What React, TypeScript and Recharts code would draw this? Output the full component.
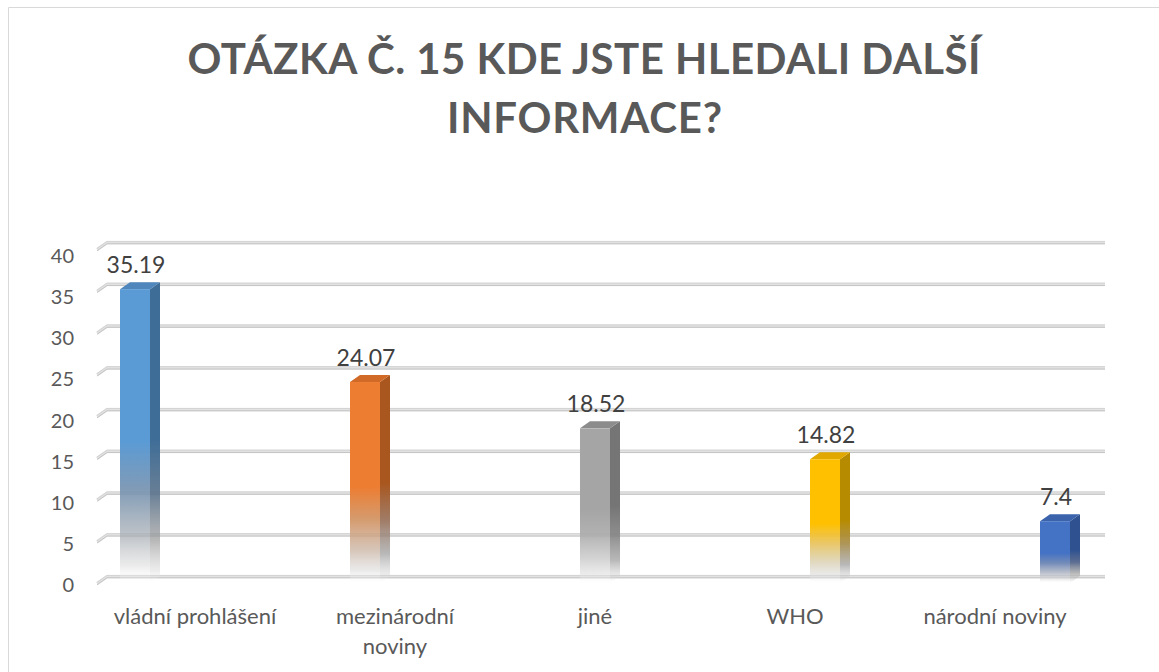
import React from 'react';
import { BarChart, Bar, XAxis, YAxis, CartesianGrid, LabelList } from 'recharts';

const categories = ['vládní prohlášení', 'mezinárodní noviny', 'jiné', 'WHO', 'národní noviny'];
const values = [35.19, 24.07, 18.52, 14.82, 7.4];
const yTicks = [0, 5, 10, 15, 20, 25, 30, 35, 40];
const titleLines = ['OTÁZKA Č. 15 KDE JSTE HLEDALI DALŠÍ', 'INFORMACE?'];

const palette = [
  { front: '#5b9bd5', top: '#4f86bb', side: '#3e6d98', mid: '#7592b0', low: '#a9afb6', sideMid: '#5a738c' },
  { front: '#ed7d31', top: '#d06a26', side: '#a9571f', mid: '#d2915f', low: '#c9b3a3', sideMid: '#98715a' },
  { front: '#a5a5a5', top: '#8c8c8c', side: '#757575', mid: '#aaaaaa', low: '#c4c4c4', sideMid: '#838383' },
  { front: '#ffc000', top: '#e0a800', side: '#b78b00', mid: '#e8c25a', low: '#d6cdb0', sideMid: '#a88d4a' },
  { front: '#4472c4', top: '#3a63ab', side: '#2f5190', mid: '#6882b2', low: '#a6adbc', sideMid: '#4f6288' },
];

const data = categories.map((name, i) => {
  const row: Record<string, any> = { name };
  values.forEach((v, j) => {
    row['s' + j] = j === i ? v : null;
  });
  return row;
});

const DX = 10;
const DY = 7;
const FONT = 'Lato, Carlito, Calibri, "Open Sans", sans-serif';

const makeShape = (j: number) => (p: any) => {
  const { x, y, width, height } = p;
  if (x == null || y == null || !height || height <= 0) return <g />;
  const c = palette[j];
  return (
    <g>
      <path
        d={`M${x + width},${y} L${x + width + DX},${y - DY} L${x + width + DX},${y + height - DY} L${x + width},${y + height} Z`}
        fill={`url(#gs${j})`}
      />
      <path
        d={`M${x},${y} L${x + DX},${y - DY} L${x + width + DX},${y - DY} L${x + width},${y} Z`}
        fill={c.top}
      />
      <rect x={x} y={y} width={width} height={height} fill={`url(#gf${j})`} />
    </g>
  );
};

const makeLabel = (p: any) => {
  const { x, y, width, value } = p;
  if (value == null || x == null) return null;
  return (
    <text
      x={x + width / 2 + 1}
      y={y - 25}
      textAnchor="middle"
      dominantBaseline="central"
      fontFamily={FONT}
      fontSize={23}
      fill="#404040"
    >
      {value}
    </text>
  );
};

const gridLine = (p: any) => {
  const { x1, x2, y1 } = p;
  const d = `M${x1 + 2},${y1} L${x1 + 2 + DX},${y1 - DY} L${x2 + DX},${y1 - DY}`;
  return (
    <g key={`grid-${y1}`}>
      <path d={d} stroke="#e2e2e2" strokeWidth={3.2} fill="none" transform="translate(0,0.6)" />
      <path d={d} stroke="#c4c4c4" strokeWidth={1} fill="none" transform="translate(0,1.8)" />
      <path d={d} stroke="#d3d3d3" strokeWidth={1} fill="none" transform="translate(0,-0.6)" />
    </g>
  );
};

const YTick = (p: any) => {
  const { x, y, payload } = p;
  const dy = 1 + (583 - y) * 0.015;
  return (
    <text
      x={x - 21}
      y={y + dy}
      textAnchor="end"
      dominantBaseline="central"
      fontFamily={FONT}
      fontSize={20}
      fill="#595959"
    >
      {payload.value}
    </text>
  );
};

const XTick = (p: any) => {
  const { x, y, payload } = p;
  const label: string = String(payload.value);
  const lines = label.length > 17 ? label.split(' ') : [label];
  return (
    <g>
      {lines.map((ln, k) => (
        <text
          key={k}
          x={x}
          y={y + 32 + k * 30}
          textAnchor="middle"
          dominantBaseline="central"
          fontFamily={FONT}
          fontSize={22}
          fill="#595959"
        >
          {ln}
        </text>
      ))}
    </g>
  );
};

export default function App() {
  return (
    <div
      style={{
        position: 'fixed',
        left: 0,
        top: 0,
        width: 1159,
        height: 672,
        background: '#ffffff',
        overflow: 'hidden',
      }}
    >
      <svg width={1159} height={672} style={{ position: 'absolute', left: 0, top: 0 }}>
        <path d="M8.5,672 L8.5,7.5 L1159,7.5" stroke="#d9d9d9" strokeWidth={1} fill="none" />
        <text
          x={584}
          y={74}
          textAnchor="middle"
          fontFamily={FONT}
          fontWeight={700}
          fontSize={42}
          fill="#595959"
          textLength={793}
          lengthAdjust="spacing"
        >
          {titleLines[0]}
        </text>
        <text
          x={584.5}
          y={133}
          textAnchor="middle"
          fontFamily={FONT}
          fontWeight={700}
          fontSize={42}
          fill="#595959"
          textLength={275}
          lengthAdjust="spacing"
        >
          {titleLines[1]}
        </text>
      </svg>
      <div style={{ position: 'absolute', left: 0, top: 0 }}>
        <BarChart
          width={1159}
          height={672}
          data={data}
          margin={{ top: 249, right: 64, bottom: 29, left: 0 }}
          barGap={0}
          barSize={30}
        >
          <defs>
            {palette.map((c, j) => (
              <linearGradient key={`gf${j}`} id={`gf${j}`} x1="0" y1="0" x2="0" y2="1">
                <stop offset="0" stopColor={c.front} stopOpacity={1} />
                <stop offset="0.52" stopColor={c.front} stopOpacity={1} />
                <stop offset="0.68" stopColor={c.mid} stopOpacity={0.92} />
                <stop offset="0.84" stopColor={c.low} stopOpacity={0.75} />
                <stop offset="0.94" stopColor="#dadada" stopOpacity={0.55} />
                <stop offset="1" stopColor="#ffffff" stopOpacity={0.1} />
              </linearGradient>
            ))}
            {palette.map((c, j) => (
              <linearGradient key={`gs${j}`} id={`gs${j}`} x1="0" y1="0" x2="0" y2="1">
                <stop offset="0" stopColor={c.side} stopOpacity={1} />
                <stop offset="0.52" stopColor={c.side} stopOpacity={1} />
                <stop offset="0.7" stopColor={c.sideMid} stopOpacity={0.92} />
                <stop offset="0.86" stopColor="#9a9a9a" stopOpacity={0.7} />
                <stop offset="0.96" stopColor="#d0d0d0" stopOpacity={0.4} />
                <stop offset="1" stopColor="#ffffff" stopOpacity={0.1} />
              </linearGradient>
            ))}
          </defs>
          <CartesianGrid vertical={false} horizontal={gridLine} />
          <XAxis
            dataKey="name"
            axisLine={false}
            tickLine={false}
            tickSize={0}
            tickMargin={0}
            height={60}
            interval={0}
            tick={<XTick />}
          />
          <YAxis
            width={95}
            domain={[0, 40]}
            ticks={yTicks}
            axisLine={false}
            tickLine={false}
            tickSize={0}
            tickMargin={0}
            interval={0}
            tick={<YTick />}
          />
          {palette.map((c, j) => (
            <Bar
              key={`s${j}`}
              dataKey={`s${j}`}
              fill={c.front}
              isAnimationActive={false}
              shape={makeShape(j)}
            >
              <LabelList dataKey={`s${j}`} content={makeLabel} />
            </Bar>
          ))}
        </BarChart>
      </div>
    </div>
  );
}
